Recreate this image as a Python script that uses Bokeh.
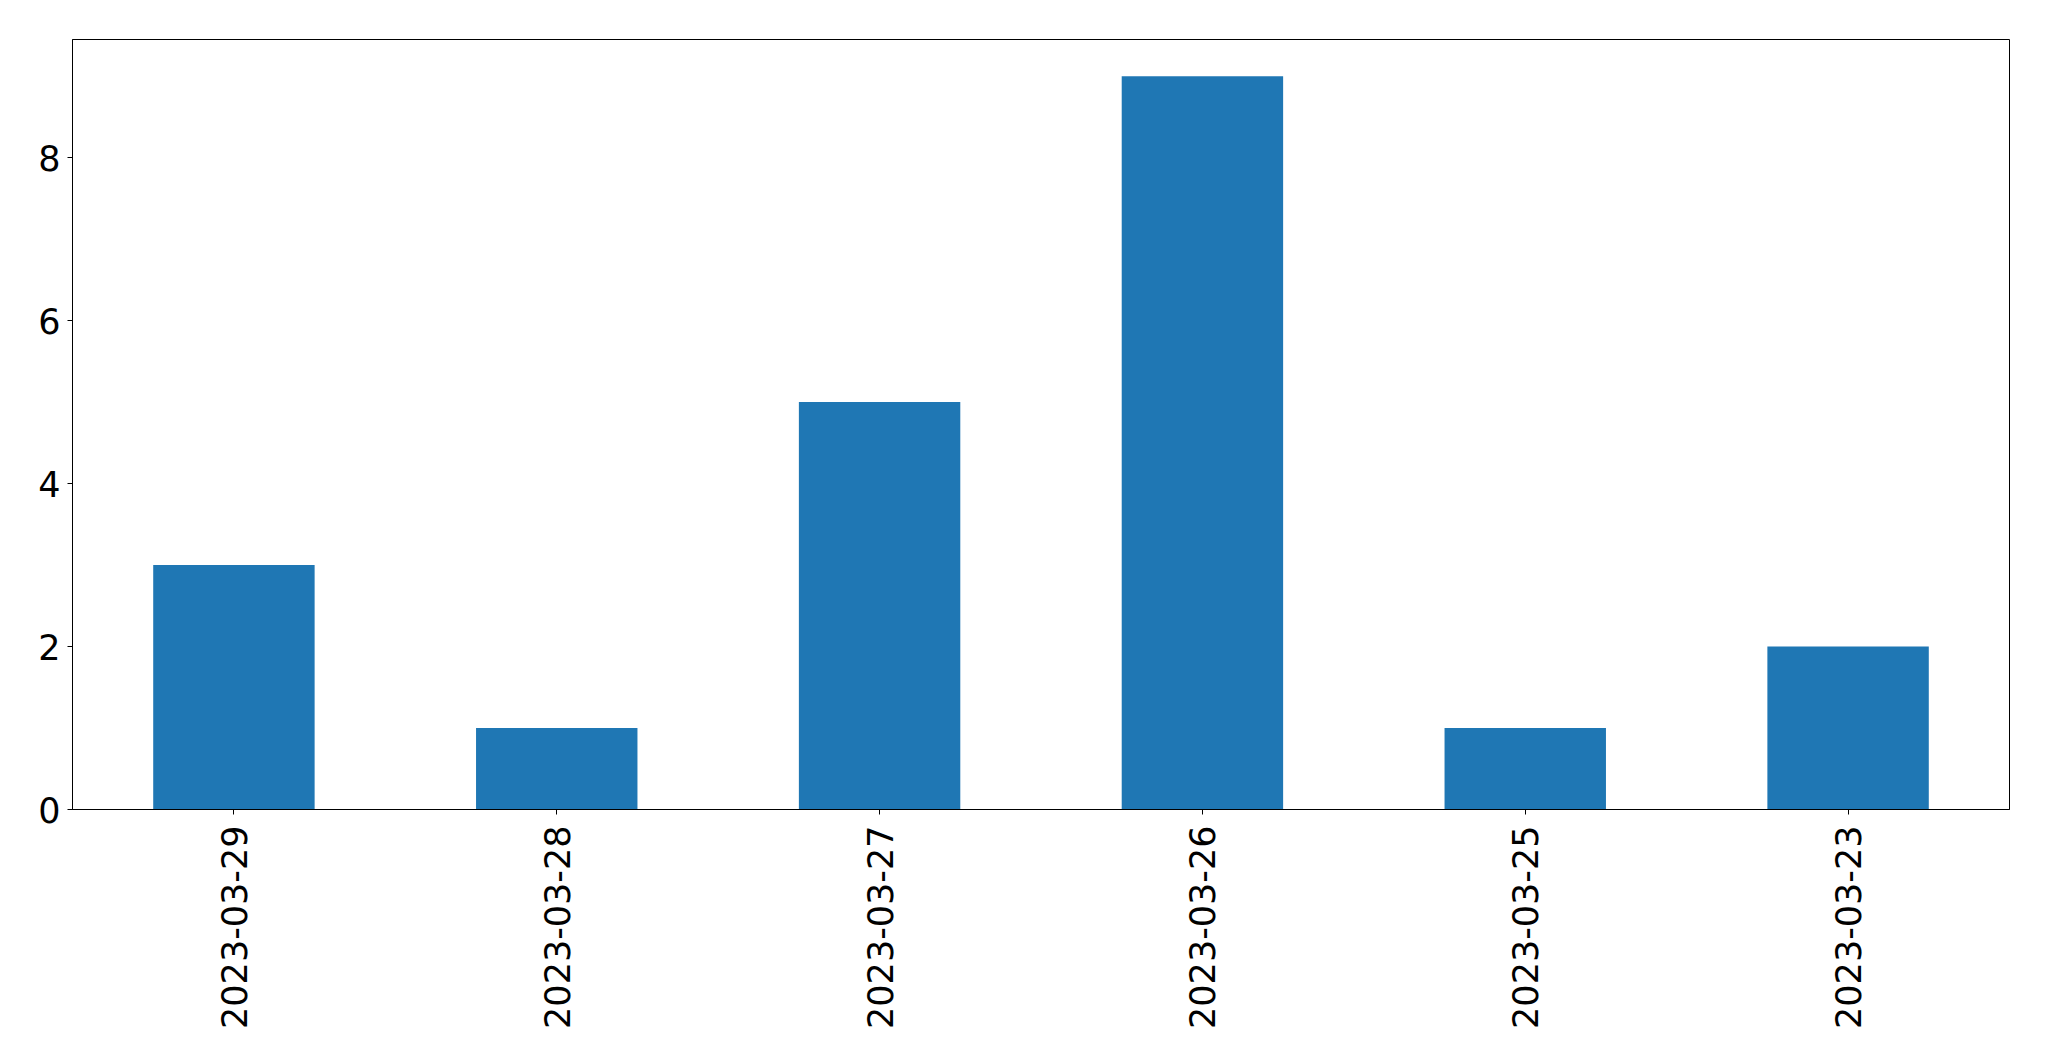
import math
from bokeh.plotting import figure
from bokeh.models import FactorRange, Range1d, FixedTicker, ColumnDataSource
from bokeh.embed import file_html
from bokeh.resources import INLINE

dates = ["2023-03-29", "2023-03-28", "2023-03-27", "2023-03-26", "2023-03-25", "2023-03-23"]
counts = [3, 1, 5, 9, 1, 2]
y_ticks = [0, 2, 4, 6, 8]

src = ColumnDataSource(data=dict(date=dates, count=counts))

p = figure(
    x_range=FactorRange(*dates, range_padding=0),
    y_range=Range1d(0, 9.45),
    frame_width=1937, frame_height=770,
    min_border_left=72, min_border_top=39, min_border_right=24, min_border_bottom=10,
    output_backend="svg", toolbar_location=None,
)
p.vbar(x="date", top="count", width=0.5, source=src, color="#1f77b4", line_color=None)

p.xgrid.visible = False
p.ygrid.visible = False
p.outline_line_color = "black"
p.outline_line_width = 1
p.background_fill_color = "white"
p.border_fill_color = "white"

for ax in (p.xaxis[0], p.yaxis[0]):
    ax.major_label_text_font = "'DejaVu Sans'"
    ax.major_label_text_font_size = "35px"
    ax.major_label_text_color = "black"
    ax.major_tick_out = 5
    ax.major_tick_in = 0
    ax.minor_tick_out = 0
    ax.minor_tick_in = 0
    ax.axis_line_color = "black"
    ax.major_tick_line_color = "black"

p.yaxis.ticker = FixedTicker(ticks=y_ticks)
p.yaxis.major_label_standoff = 7
p.xaxis.major_label_orientation = math.pi / 2
p.xaxis.major_label_standoff = 11

open("out.html", "w").write(file_html(p, INLINE))
